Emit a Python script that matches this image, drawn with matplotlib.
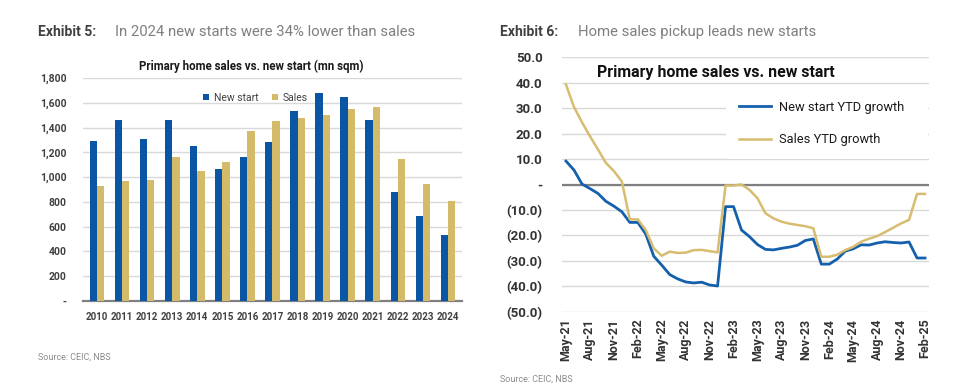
import numpy as np
import pandas as pd
import matplotlib
matplotlib.use('Agg')
import matplotlib.pyplot as plt
from matplotlib.ticker import FuncFormatter

plt.rcParams['font.family'] = ['Roboto', 'DejaVu Sans']

# exhibit 5 data (mn sqm)
years = ['2010', '2011', '2012', '2013', '2014', '2015', '2016', '2017',
         '2018', '2019', '2020', '2021', '2022', '2023', '2024']
new_start = [1292, 1460, 1305, 1460, 1250, 1065, 1160, 1280,
             1535, 1675, 1645, 1462, 880, 690, 535]
sales = [930, 970, 980, 1160, 1050, 1120, 1375, 1450,
         1480, 1500, 1550, 1565, 1145, 945, 810]

# exhibit 6 data (YTD growth %), May-21 .. Feb-25
months = pd.date_range('2021-05-01', '2025-02-01', freq='MS')
new_start_ytd = [9.2, 5.7, 0.2, -1.6, -3.5, -6.6, -8.5, -10.7,
                 -14.9, -14.9, -19.5, -28.2, -31.7, -35.4, -37.1, -38.3, -38.7, -38.4, -39.5, -39.9,
                 -8.7, -8.7, -17.9, -20.5, -23.6, -25.5, -25.7, -25.1, -24.6, -23.9, -22.0, -21.4,
                 -31.3, -31.3, -29.3, -26.2, -25.3, -23.7, -23.8, -23.0, -22.5, -22.8, -23.0, -22.6,
                 -28.9, -28.9]
sales_ytd = [39.3, 30.5, 24.5, 19.0, 13.8, 8.5, 5.3, 1.2,
             -13.7, -13.7, -17.9, -25.1, -28.0, -26.4, -26.9, -26.8, -25.8, -25.7, -26.2, -26.7,
             -0.4, -0.4, 0.0, -2.1, -5.4, -11.3, -13.3, -14.6, -15.4, -15.9, -16.4, -17.2,
             -28.4, -28.4, -27.6, -25.8, -24.5, -22.5, -21.3, -20.3, -18.7, -17.0, -15.3, -13.9,
             -3.7, -3.7]

blue = '#0A56A5'
gold = '#D4BB6A'
txt = '#404040'
grid = '#D9D9D9'
W, H = 960, 387

fig = plt.figure(figsize=(9.6, 3.87), dpi=100)

# ---------- left: bars ----------
ax1 = fig.add_axes([83/W, 1-301/H, (462-83)/W, (301-78)/H])
x = np.arange(len(years))
bw = 0.29
ax1.bar(x - bw/2, new_start, bw, color=blue, label='New start', zorder=3)
ax1.bar(x + bw/2, sales, bw, color=gold, label='Sales', zorder=3)
ax1.set_xlim(-0.56, len(years) - 0.44)
ax1.set_ylim(0, 1800)
ax1.set_yticks(np.arange(0, 1801, 200))
ax1.yaxis.set_major_formatter(FuncFormatter(lambda v, p: '-' if v == 0 else f'{v:,.0f}'))
ax1.set_xticks(x)
ax1.set_xticklabels(years)
ax1.grid(axis='y', color=grid, lw=1, zorder=0)
for s in ['top', 'right', 'left']:
    ax1.spines[s].set_visible(False)
ax1.spines['bottom'].set_color('#808080')
ax1.spines['bottom'].set_linewidth(1.6)
ax1.tick_params(length=0, colors=txt, labelsize=7)
ax1.tick_params(axis='y', pad=12, labelsize=7.5)
ax1.tick_params(axis='x', pad=8)
for lab in ax1.get_xticklabels() + ax1.get_yticklabels():
    lab.set_fontweight('bold')
ax1.legend(loc='upper center', bbox_to_anchor=(0.455, 0.975), ncol=2, frameon=False,
           fontsize=7.5, handlelength=0.55, handleheight=0.55, handletextpad=0.5,
           columnspacing=1.3, labelcolor=txt)
fig.text(251/W, 1-66/H, 'Primary home sales vs. new start (mn sqm)', ha='center', va='center',
         fontsize=8.3, fontweight='bold', color='#1a1a1a')

# ---------- right: lines ----------
ax2 = fig.add_axes([562/W, 1-311.7/H, (929-562)/W, 254.4/H])
t = np.arange(len(months))
ax2.plot(t, new_start_ytd, color='#1560AC', lw=2.0, label='New start YTD growth', zorder=3)
ax2.plot(t, sales_ytd, color='#D6BD70', lw=1.8, label='Sales YTD growth', zorder=3)
ax2.axhline(0, color='#808080', lw=1.6, zorder=2)
ax2.set_xlim(-0.5, len(months) - 0.5)
ax2.set_ylim(-50, 50)
ax2.set_yticks(np.arange(-50, 51, 10))
ax2.yaxis.set_major_formatter(FuncFormatter(
    lambda v, p: '-' if v == 0 else (f'({abs(v):.1f})' if v < 0 else f'{v:.1f}')))
ax2.set_xticks(t[::3])
ax2.set_xticklabels([m.strftime('%b-%y') for m in months[::3]], rotation=90)
ax2.grid(axis='y', color=grid, lw=1, zorder=0)
for s in ax2.spines.values():
    s.set_visible(False)
ax2.tick_params(length=0, colors='#333333')
ax2.tick_params(axis='y', labelsize=9.5, pad=14)
ax2.tick_params(axis='x', labelsize=9, pad=5)
for lab in ax2.get_xticklabels() + ax2.get_yticklabels():
    lab.set_fontweight('bold')
leg = ax2.legend(loc='upper left', bbox_to_anchor=(0.447, 0.62, 0.55, 0.259), mode='expand',
                 borderaxespad=0, borderpad=1.0, frameon=True, facecolor='white', edgecolor='none',
                 framealpha=1, fontsize=9.3, handlelength=2.5, handletextpad=0.6,
                 labelspacing=1.5, labelcolor='#1a1a1a')
leg.set_zorder(4)
ax2.text(0.095, 0.942, 'Primary home sales vs. new start', transform=ax2.transAxes,
         ha='left', va='center', fontsize=11.4, fontweight='bold', color='#111111', zorder=5)

# ---------- headers and sources ----------
fig.text(38/W, 1-32/H, 'Exhibit 5:', fontsize=10, fontweight='bold', color='#404040', va='center')
fig.text(115/W, 1-32/H, 'In 2024 new starts were 34% lower than sales', fontsize=10.7,
         color='#7f7f7f', va='center')
fig.text(500/W, 1-32/H, 'Exhibit 6:', fontsize=10, fontweight='bold', color='#404040', va='center')
fig.text(578/W, 1-32/H, 'Home sales pickup leads new starts', fontsize=10.7,
         color='#7f7f7f', va='center')
fig.text(38/W, 1-357/H, 'Source: CEIC, NBS', fontsize=6.5, color='#8c8c8c', va='center')
fig.text(500/W, 1-379/H, 'Source: CEIC, NBS', fontsize=6.5, color='#8c8c8c', va='center')

fig.savefig('out.png', dpi=100)
